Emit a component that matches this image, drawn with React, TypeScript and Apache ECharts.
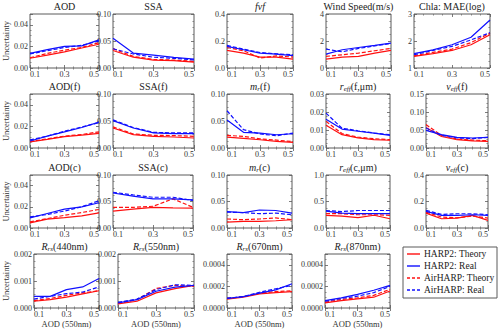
import React, { useEffect, useRef } from 'react';
import * as echarts from 'echarts';

// x positions (AOD at 550 nm)
const aodX = [0.1, 0.2, 0.3, 0.4, 0.5];
const xTickLabels = ['0.1', '0.3', '0.5'];

const panelTitles = [
  'AOD', 'SSA', '{i|fvf}', 'Wind Speed(m/s)', 'Chla: MAE(log)',
  'AOD(f)', 'SSA(f)', '{i|m}{s|r}(f)', '{i|r}{s|eff}(f,μm)', '{i|v}{s|eff}(f)',
  'AOD(c)', 'SSA(c)', '{i|m}{s|r}(c)', '{i|r}{s|eff}(c,μm)', '{i|v}{s|eff}(c)',
  '{i|R}{s|rs}(440nm)', '{i|R}{s|rs}(550nm)', '{i|R}{s|rs}(670nm)', '{i|R}{s|rs}(870nm)',
];
const yMin = [0, 0, 0, 0, 1, 0, 0, 0, 0, 0, 0, 0, 0, 0, 0, 0, 0, 0, 0];
const yMax = [0.05, 0.1, 0.4, 4, 3, 0.05, 0.1, 0.1, 0.03, 0.15, 0.05, 0.1, 0.1, 1, 0.4, 0.002, 0.002, 0.0005, 0.0005];
const yStep = [0.02, 0.05, 0.2, 2, 1, 0.02, 0.05, 0.05, 0.01, 0.05, 0.02, 0.05, 0.05, 0.5, 0.2, 0.001, 0.001, 0.0002, 0.0002];
const yDigits = [2, 2, 1, 0, 0, 2, 2, 2, 2, 2, 2, 2, 2, 1, 1, 3, 3, 4, 4];

const seriesNames = ['HARP2: Theory', 'HARP2: Real', 'AirHARP: Theory', 'AirHARP: Real'];

// HARP2: Theory (red solid), one row per panel
const harp2Theory = [
  [0.009, 0.012, 0.015, 0.0185, 0.022],
  [0.0325, 0.02, 0.0147, 0.0135, 0.011],
  [0.13, 0.11, 0.081, 0.081, 0.066],
  [0.66, 0.81, 0.86, 1.1, 1.3],
  [1.43, 1.53, 1.65, 1.86, 2.23],
  [0.0056, 0.008, 0.0105, 0.012, 0.0135],
  [0.037, 0.0247, 0.0216, 0.0204, 0.0185],
  [0.02, 0.018, 0.0153, 0.0123, 0.0104],
  [0.0126, 0.0074, 0.0056, 0.0046, 0.0043],
  [0.057, 0.032, 0.023, 0.02, 0.0185],
  [0.0048, 0.0083, 0.0098, 0.0114, 0.0143],
  [0.032, 0.0355, 0.039, 0.038, 0.0375],
  [0.011, 0.0125, 0.0125, 0.0137, 0.0156],
  [0.24, 0.225, 0.195, 0.24, 0.175],
  [0.1125, 0.07, 0.075, 0.095, 0.0575],
  [0.00025, 0.00031, 0.0004, 0.00052, 0.00064],
  [0.00015, 0.00025, 0.00056, 0.00072, 0.00084],
  [0.000083, 0.0001, 0.00013, 0.000143, 0.000152],
  [0.000047, 0.000069, 0.000085, 0.0001, 0.000157],
];

// HARP2: Real (blue solid)
const harp2Real = [
  [0.0135, 0.017, 0.02, 0.0205, 0.026],
  [0.055, 0.0276, 0.024, 0.0196, 0.0166],
  [0.16, 0.135, 0.11, 0.103, 0.091],
  [1.03, 1.35, 1.52, 1.67, 1.84],
  [1.53, 1.67, 1.86, 2.14, 2.78],
  [0.0065, 0.011, 0.015, 0.019, 0.024],
  [0.0506, 0.037, 0.028, 0.0265, 0.0265],
  [0.052, 0.029, 0.0276, 0.0245, 0.0264],
  [0.016, 0.0105, 0.0093, 0.0083, 0.007],
  [0.049, 0.037, 0.0296, 0.0278, 0.0296],
  [0.0095, 0.0137, 0.0178, 0.02, 0.0238],
  [0.066, 0.06, 0.055, 0.055, 0.053],
  [0.031, 0.029, 0.034, 0.033, 0.028],
  [0.32, 0.28, 0.27, 0.27, 0.27],
  [0.125, 0.095, 0.095, 0.1, 0.095],
  [0.00043, 0.00043, 0.00068, 0.00078, 0.00109],
  [0.00019, 0.00031, 0.00062, 0.00077, 0.00084],
  [0.000089, 0.000105, 0.000137, 0.000168, 0.000225],
  [0.000069, 0.000094, 0.000126, 0.000164, 0.00021],
];

// AirHARP: Theory (red dashed)
const airTheory = [
  [0.0095, 0.0135, 0.0165, 0.019, 0.0235],
  [0.0356, 0.0215, 0.016, 0.0147, 0.0123],
  [0.152, 0.128, 0.074, 0.09, 0.081],
  [0.86, 0.98, 1.1, 1.28, 1.45],
  [1.45, 1.58, 1.7, 1.94, 2.29],
  [0.006, 0.0085, 0.011, 0.0125, 0.015],
  [0.039, 0.026, 0.0235, 0.023, 0.0216],
  [0.0233, 0.0215, 0.017, 0.0147, 0.0117],
  [0.0148, 0.008, 0.006, 0.0052, 0.0046],
  [0.065, 0.035, 0.025, 0.022, 0.02],
  [0.0057, 0.0089, 0.012, 0.0146, 0.0175],
  [0.039, 0.039, 0.041, 0.055, 0.039],
  [0.017, 0.0156, 0.017, 0.019, 0.0156],
  [0.27, 0.27, 0.25, 0.25, 0.24],
  [0.12, 0.0825, 0.0775, 0.09, 0.075],
  [0.00027, 0.00035, 0.00047, 0.00056, 0.00064],
  [0.00016, 0.00031, 0.00072, 0.00084, 0.0008],
  [0.000089, 0.000105, 0.000137, 0.000152, 0.00016],
  [0.000054, 0.000079, 0.000094, 0.000117, 0.000173],
];

// AirHARP: Real (blue dashed)
const airReal = [
  [0.013, 0.016, 0.019, 0.021, 0.025],
  [0.0356, 0.026, 0.02, 0.018, 0.015],
  [0.167, 0.14, 0.115, 0.105, 0.098],
  [1.4, 1.2, 1.45, 1.64, 1.82],
  [1.49, 1.65, 1.8, 2.04, 2.31],
  [0.0075, 0.011, 0.0155, 0.0195, 0.0235],
  [0.052, 0.038, 0.029, 0.028, 0.028],
  [0.069, 0.034, 0.026, 0.0227, 0.0276],
  [0.0194, 0.011, 0.0096, 0.0083, 0.0074],
  [0.0556, 0.035, 0.028, 0.026, 0.0296],
  [0.0105, 0.0127, 0.016, 0.02, 0.0257],
  [0.0675, 0.0625, 0.058, 0.058, 0.052],
  [0.03, 0.029, 0.027, 0.028, 0.025],
  [0.33, 0.31, 0.33, 0.33, 0.33],
  [0.1325, 0.1025, 0.1075, 0.1075, 0.1],
  [0.00033, 0.00043, 0.00053, 0.00059, 0.00078],
  [0.00021, 0.00033, 0.00068, 0.00086, 0.00084],
  [0.000089, 0.000105, 0.000146, 0.000178, 0.00021],
  [0.000063, 0.000088, 0.00011, 0.000142, 0.0002],
];

// ---- layout (pixels) ----
const panelLeft = [30, 113, 227, 326, 414, 30, 113, 227, 326, 426, 30, 113, 227, 326, 426, 30, 118, 227, 325];
const panelRight = [99, 194, 293, 391, 490, 99, 194, 293, 390, 488, 99, 193, 292, 390, 488, 99, 194, 292, 390];
const rowTop = [14, 94, 175, 254];
const rowHeight = [54, 54, 53, 54];

const FONT = '"Liberation Serif", "DejaVu Serif", serif';
const FRAME = '#5a5a5a';
const LABEL = '#333';
const RED = '#ff1010';
const BLUE = '#1010ff';
const seriesColor = [RED, BLUE, RED, BLUE];
const seriesDash: any[] = ['solid', 'solid', [4, 2], [4, 2]];

export default function App() {
  const ref = useRef<HTMLDivElement>(null);
  useEffect(() => {
    document.body.style.margin = '0';
    const chart = echarts.init(ref.current!, null, { renderer: 'svg' });
    const grids: any[] = [];
    const xAxes: any[] = [];
    const yAxes: any[] = [];
    const series: any[] = [];
    const graphics: any[] = [];
    const n = panelTitles.length;
    const sets = [harp2Theory, harp2Real, airTheory, airReal];

    const tickCommon = {
      axisLine: { show: false },
      axisTick: { show: true, inside: true, length: 3, lineStyle: { color: FRAME, width: 0.8 } },
      minorTick: { show: true, splitNumber: 4, length: 1.6, lineStyle: { color: FRAME, width: 0.6 } },
      splitLine: { show: false },
      minorSplitLine: { show: false },
    };

    for (let i = 0; i < n; i++) {
      const row = Math.floor(i / 5);
      const col = i % 5;
      const l = panelLeft[i];
      const w = panelRight[i] - l;
      const top = rowTop[row];
      const h = rowHeight[row];
      grids.push({
        left: l, top, width: w, height: h, show: true,
        borderColor: FRAME, borderWidth: 1, backgroundColor: 'transparent',
      });
      xAxes[i] = {
        type: 'value', gridIndex: i, position: 'bottom', min: 0.1, max: 0.5, interval: 0.2,
        ...tickCommon,
        axisLabel: {
          fontFamily: FONT, fontSize: 8, color: LABEL, margin: 2,
          alignMinLabel: 'left', alignMaxLabel: 'right',
          formatter: (v: number) => {
            const k = Math.round((v - 0.1) / 0.2);
            return Math.abs((v - 0.1) / 0.2 - k) < 1e-6 ? xTickLabels[k] ?? '' : '';
          },
        },
        name: row === 3 ? 'AOD (550nm)' : '',
        nameLocation: 'middle', nameGap: 11,
        nameTextStyle: { fontFamily: FONT, fontSize: 8.5, color: LABEL },
      };
      xAxes[n + i] = {
        type: 'value', gridIndex: i, position: 'top', min: 0.1, max: 0.5, interval: 0.2,
        ...tickCommon, axisLabel: { show: false },
      };
      const step = yStep[i];
      const base = yMin[i];
      const dig = yDigits[i];
      yAxes[i] = {
        type: 'value', gridIndex: i, position: 'left', min: base, max: yMax[i], interval: step,
        ...tickCommon,
        axisLabel: {
          fontFamily: FONT, fontSize: 8, color: LABEL, margin: 2,
          formatter: (v: number) => {
            const q = (v - base) / step;
            return Math.abs(q - Math.round(q)) < 1e-6 ? v.toFixed(dig) : '';
          },
        },
        name: col === 0 ? 'Uncertainty' : '',
        nameLocation: 'middle', nameGap: 17,
        nameTextStyle: { fontFamily: FONT, fontSize: 8.5, color: LABEL },
      };
      yAxes[n + i] = {
        type: 'value', gridIndex: i, position: 'right', min: base, max: yMax[i], interval: step,
        ...tickCommon, axisLabel: { show: false },
      };

      sets.forEach((set, s) => {
        series.push({
          type: 'line', name: seriesNames[s], xAxisIndex: i, yAxisIndex: i,
          data: aodX.map((x, k) => [x, set[i][k]]),
          symbol: 'none', showSymbol: false, silent: true,
          lineStyle: { color: seriesColor[s], width: 1.2, type: seriesDash[s] },
          itemStyle: { color: seriesColor[s] },
          z: 2 + (s % 2),
        });
      });

      graphics.push({
        type: 'text', x: l + w / 2, y: top - 2, silent: true,
        style: {
          text: panelTitles[i], align: 'center', verticalAlign: 'bottom',
          fontFamily: FONT, fontSize: 10, lineHeight: 11, fill: '#222',
          rich: {
            i: { fontFamily: FONT, fontSize: 10, fontStyle: 'italic', lineHeight: 11, fill: '#222' },
            s: { fontFamily: FONT, fontSize: 7, fontStyle: 'italic', lineHeight: 6, verticalAlign: 'bottom', fill: '#222' },
          },
        },
      });
    }

    // legend box
    const lgX = 403, lgY = 247, lgW = 94, lgH = 51;
    graphics.push({
      type: 'rect', shape: { x: lgX, y: lgY, width: lgW, height: lgH }, silent: true,
      style: { fill: '#fff', stroke: FRAME, lineWidth: 1 },
    });
    seriesNames.forEach((nm, s) => {
      const cy = lgY + 7 + s * 12;
      graphics.push({
        type: 'line', silent: true,
        shape: { x1: lgX + 4, y1: cy, x2: lgX + 17, y2: cy },
        style: { stroke: seriesColor[s], lineWidth: 1.4, lineDash: s >= 2 ? [3, 2] : null },
      });
      graphics.push({
        type: 'text', x: lgX + 21, y: cy, silent: true,
        style: { text: nm, fontFamily: FONT, fontSize: 9.5, fill: '#222', verticalAlign: 'middle', align: 'left' },
      });
    });

    chart.setOption({
      animation: false,
      grid: grids,
      xAxis: xAxes,
      yAxis: yAxes,
      series,
      graphic: graphics,
    });
    return () => chart.dispose();
  }, []);
  return <div ref={ref} style={{ position: 'absolute', left: 0, top: 0, width: 500, height: 330 }} />;
}
